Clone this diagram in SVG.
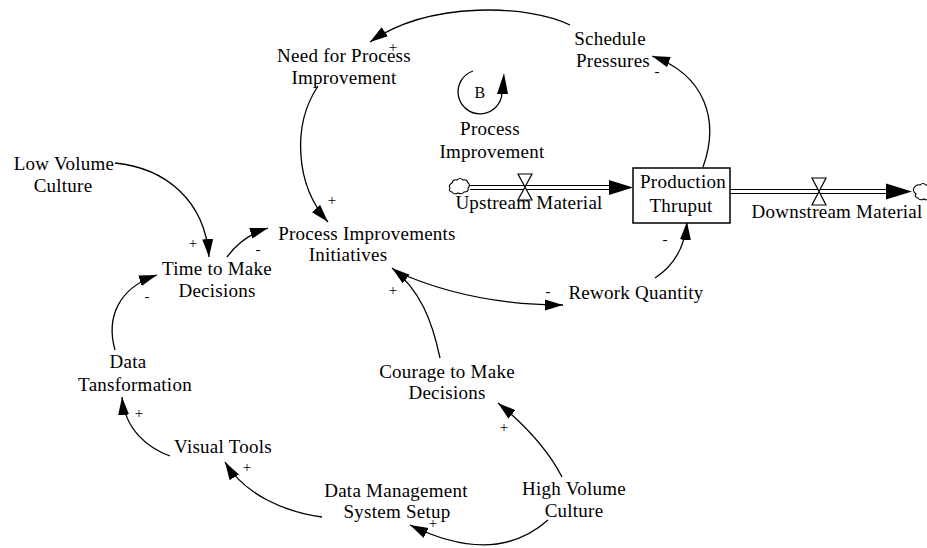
<svg xmlns="http://www.w3.org/2000/svg" width="927" height="548" viewBox="0 0 927 548">
<style>
text{font-family:"Liberation Serif","Times New Roman",serif;font-size:19px;fill:#000;text-anchor:middle;letter-spacing:0.25px}
.sg{font-size:15px;letter-spacing:0}
.lk{fill:none;stroke:#000;stroke-width:1.3;marker-end:url(#ah)}
.ln{fill:none;stroke:#000;stroke-width:1.3}
.pipe{stroke:#000;stroke-width:1.2}
.cloud{fill:#fff;stroke:#000;stroke-width:1.1}
</style>
<defs>
<marker id="ah" markerWidth="20" markerHeight="12" refX="18" refY="6" orient="auto" markerUnits="userSpaceOnUse"><path d="M0,0.5 L18,6 L0,11.5 z" fill="#000"/></marker>
</defs>
<rect width="927" height="548" fill="#fff"/>

<g id="connectors">
<path class="lk" d="M570,25 C530,5 430,0 370,42"/>
<path class="lk" d="M703,167 C720,120 705,75 652,56"/>
<path class="lk" d="M318,86 C292,125 295,185 328,222"/>
<path class="lk" d="M115,163 C165,168 205,200 209,257"/>
<path class="lk" d="M227,257 Q242,236 268,228"/>
<path class="lk" d="M115,350 C106,318 118,288 157,275"/>
<path class="lk" d="M170,456 C148,448 125,430 122,397"/>
<path class="lk" d="M322,517 C285,512 245,495 225,462"/>
<path class="lk" d="M548,520 Q495,567 410,525"/>
<path class="lk" d="M562,477 C548,450 525,425 498,403"/>
<path class="lk" d="M440,358 C432,320 420,290 392,268"/>
<path class="lk" d="M395,271 Q470,305 563,305"/>
<path class="lk" d="M655,278 C675,265 685,245 687,222"/>
</g>

<g id="loop-B">
<path class="ln" d="M473,71 A22,22 0 1 0 502,93"/>
<polygon points="497,94 508,94 504,73" fill="#000"/>
<text x="480" y="98" style="font-size:16px">B</text>
<text x="490" y="135">Process</text>
<text x="492" y="158">Improvement</text>
</g>

<g id="upstream-flow">
<path class="cloud" d="M452,183 q1,-4 5,-3 q3,-3 6,0 q4,-1 5,3 q3,2 0,5 q1,4 -4,4 q-2,3 -6,1 q-4,2 -6,-1 q-4,-1 -2,-4 q-2,-3 2,-5z"/>
<line class="pipe" x1="470" y1="185.5" x2="612" y2="185.5"/>
<line class="pipe" x1="470" y1="189.5" x2="612" y2="189.5"/>
<polygon points="609,180 633,187.5 609,195" fill="#000"/>
<polygon points="518,174 532,174 525,187 532,200 518,200 525,187" fill="#fff" stroke="#000" stroke-width="1.2"/>
<text x="529" y="209">Upstream Material</text>
</g>

<g id="production-thruput">
<rect x="633" y="168" width="97" height="55" fill="#fff" stroke="#000" stroke-width="1.5"/>
<text x="683" y="188">Production</text>
<text x="681" y="212">Thruput</text>
</g>

<g id="downstream-flow">
<line class="pipe" x1="730" y1="189.5" x2="888" y2="189.5"/>
<line class="pipe" x1="730" y1="193.5" x2="888" y2="193.5"/>
<polygon points="886,183.5 912,191.5 886,199.5" fill="#000"/>
<polygon points="812,178 826,178 819,191.5 826,205 812,205 819,191.5" fill="#fff" stroke="#000" stroke-width="1.2"/>
<path class="cloud" d="M914,188 q2,-4 6,-3 q3,-3 6,0 q4,1 4,4 l0,9 q-3,3 -6,1 q-4,2 -6,-1 q-4,-1 -2,-4 q-4,-3 -2,-6z"/>
<text x="837" y="218">Downstream Material</text>
</g>

<g id="need-for-process-improvement">
<text x="344" y="62">Need for Process</text>
<text x="344" y="84">Improvement</text>
</g>
<g id="schedule-pressures">
<text x="610" y="45">Schedule</text>
<text x="613" y="67">Pressures</text>
</g>
<g id="low-volume-culture">
<text x="64" y="170">Low Volume</text>
<text x="63" y="192">Culture</text>
</g>
<g id="process-improvements-initiatives">
<text x="367" y="240">Process Improvements</text>
<text x="348" y="261">Initiatives</text>
</g>
<g id="time-to-make-decisions">
<text x="217" y="275">Time to Make</text>
<text x="217" y="297">Decisions</text>
</g>
<g id="rework-quantity">
<text x="636" y="299">Rework Quantity</text>
</g>
<g id="data-tansformation">
<text x="128" y="368">Data</text>
<text x="135" y="391">Tansformation</text>
</g>
<g id="courage-to-make-decisions">
<text x="447" y="378">Courage to Make</text>
<text x="447" y="399">Decisions</text>
</g>
<g id="visual-tools">
<text x="223" y="453">Visual Tools</text>
</g>
<g id="data-management-system-setup">
<text x="396" y="497">Data Management</text>
<text x="397" y="518">System Setup</text>
</g>
<g id="high-volume-culture">
<text x="574" y="495">High Volume</text>
<text x="574" y="517">Culture</text>
</g>

<g id="polarities">
<text class="sg" x="393" y="52">+</text>
<text class="sg" x="657" y="76">-</text>
<text class="sg" x="332" y="205">+</text>
<text class="sg" x="193" y="248">+</text>
<text class="sg" x="258" y="254">-</text>
<text class="sg" x="147" y="301">-</text>
<text class="sg" x="393" y="295">+</text>
<text class="sg" x="548" y="296">-</text>
<text class="sg" x="665" y="244">-</text>
<text class="sg" x="139" y="418">+</text>
<text class="sg" x="247" y="472">+</text>
<text class="sg" x="504" y="432">+</text>
<text class="sg" x="433" y="528">+</text>
</g>
</svg>
